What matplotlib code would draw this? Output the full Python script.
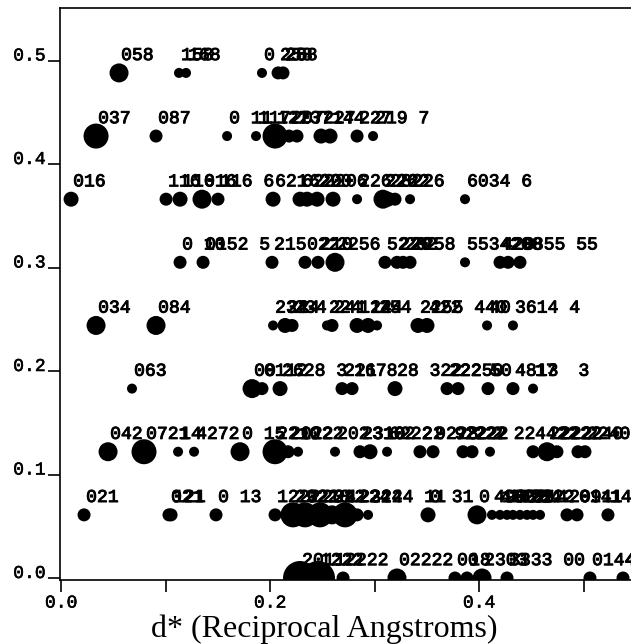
import matplotlib
matplotlib.use("Agg")
import matplotlib.pyplot as plt
import matplotlib.patheffects as pe

# ---- data: d* (reciprocal Angstroms), relative intensity class, hkl label, per layer ----
layer_y = [0.0, 0.061, 0.122, 0.183, 0.244, 0.305, 0.366, 0.427, 0.488]

dstar_0 = [0.2287, 0.2459, 0.2699, 0.3215, 0.3770, 0.3885, 0.4029, 0.4268, 0.5062, 0.5378]
inten_0 = [6, 6, 2, 4, 2, 2, 4, 2, 2, 2]
hkl_0 = ["2011", "1222", "2222", "02222", "00", "18", "2303", "3333 00", "0144", "4422"]

dstar_1 = [0.0220, 0.1033, 0.1053, 0.1483, 0.2048, 0.2220, 0.2335, 0.2478, 0.2593, 0.2718,
           0.2833, 0.2938, 0.3512, 0.3981, 0.4124, 0.4201, 0.4268, 0.4325, 0.4392, 0.4459,
           0.4517, 0.4584, 0.4842, 0.4938, 0.5234]
inten_1 = [2, 2, 2, 2, 2, 5, 5, 5, 4, 5,
           2, 1, 3, 4, 1, 1, 1, 1, 1, 1,
           1, 1, 2, 2, 2]
hkl_1 = ["021", "021", "121", "0 13", "1222", "2922", "0218", "2322", "24", "1224",
         "2224", "3224 11", "0 31", "0 4", "499", "102", "272", "632", "189", "234",
         "214", "222", "2091", "0141", "14"]

dstar_2 = [0.0450, 0.0794, 0.1120, 0.1273, 0.1713, 0.2048, 0.2172, 0.2268, 0.2622, 0.2861,
           0.2957, 0.3120, 0.3435, 0.3560, 0.3847, 0.3933, 0.4105, 0.4517, 0.4651, 0.4746,
           0.4947, 0.5014]
inten_2 = [4, 5, 1, 1, 4, 5, 2, 1, 1, 2,
           3, 1, 2, 2, 2, 2, 1, 2, 4, 2,
           2, 2]
hkl_2 = ["042", "0721", "14", "4272", "0 15", "2210", "2022", "1222", "202", "2310",
         "3102", "6222", "22 922", "9228", "2222", "222", "2 22", "4422", "2222", "2222",
         "2240", "22400."]

dstar_3 = [0.0679, 0.1828, 0.1923, 0.2096, 0.2689, 0.2785, 0.3196, 0.3694, 0.3799, 0.4086,
           0.4325, 0.4517]
inten_3 = [1, 4, 2, 3, 2, 2, 3, 2, 2, 2, 2, 1]
hkl_3 = ["063", "00", "0112", "2628 3", "221", "1678", "28 322", "222", "2250", "50",
         "4813", "17  3"]

dstar_4 = [0.0335, 0.0909, 0.2029, 0.2144, 0.2211, 0.2545, 0.2593, 0.2833, 0.2938, 0.3024,
           0.3416, 0.3502, 0.4077, 0.4325]
inten_4 = [4, 4, 1, 3, 2, 1, 2, 3, 3, 1, 3, 3, 1, 1]
hkl_4 = ["034", "084", "234", "224", "234", "224", "241", "114", "224", "254",
         "2255 440", "422", "40", "3614 4"]

dstar_5 = [0.1139, 0.1359, 0.2019, 0.2335, 0.2459, 0.2622, 0.3100, 0.3215, 0.3273, 0.3340,
           0.3866, 0.4201, 0.4278, 0.4392]
inten_5 = [2, 2, 2, 2, 2, 4, 2, 2, 2, 2, 1, 2, 2, 2]
hkl_5 = ["0 10", "0152 5", "215", "022", "210", "2256", "52", "220", "202", "2258",
         "5534", "420", "208", "0855 55"]

dstar_6 = [0.0096, 0.1005, 0.1139, 0.1349, 0.1502, 0.2029, 0.2287, 0.2354, 0.2450, 0.2603,
           0.2833, 0.3081, 0.3129, 0.3196, 0.3340, 0.3866]
inten_6 = [3, 2, 3, 4, 2, 3, 3, 3, 3, 3, 1, 4, 3, 2, 1, 1]
hkl_6 = ["016", "116", "116", "016", "116 6", "621", "622", "620", "220", "206",
         "226", "226", "282", "222", "226", "6034 6"]

dstar_7 = [0.0335, 0.0909, 0.1589, 0.1866, 0.2048, 0.2182, 0.2258, 0.2488, 0.2574, 0.2833,
           0.2986]
inten_7 = [5, 2, 1, 1, 5, 2, 2, 3, 3, 2, 1]
hkl_7 = ["037", "087", "0 11", "117", "127", "207", "237", "227", "144", "227", "219 7"]

dstar_8 = [0.0555, 0.1129, 0.1196, 0.1923, 0.2077, 0.2124]
inten_8 = [4, 1, 1, 1, 2, 2]
hkl_8 = ["058", "158", "168", "0 25", "258", "288"]

layers = [
    (dstar_0, inten_0, hkl_0), (dstar_1, inten_1, hkl_1), (dstar_2, inten_2, hkl_2),
    (dstar_3, inten_3, hkl_3), (dstar_4, inten_4, hkl_4), (dstar_5, inten_5, hkl_5),
    (dstar_6, inten_6, hkl_6), (dstar_7, inten_7, hkl_7), (dstar_8, inten_8, hkl_8),
]

x_ticks = [0.0, 0.1, 0.2, 0.3, 0.4, 0.5]
x_ticklabels = ["0.0", "", "0.2", "", "0.4", ""]
y_ticks = [0.0, 0.1, 0.2, 0.3, 0.4, 0.5]
y_ticklabels = ["0.0", "0.1", "0.2", "0.3", "0.4", "0.5"]
x_label = "d* (Reciprocal Angstroms)"

# ---- style ----
diam_px = {1: 10, 2: 13, 3: 15, 4: 19, 5: 25, 6: 34}
mono = "Liberation Mono"
thicken = [pe.withStroke(linewidth=0.7, foreground="black")]

fig = plt.figure(figsize=(6.31, 6.44), dpi=100)
W, H = 631, 644
ax = fig.add_axes([60 / W, 64 / H, 580 / W, 572 / H])

for yv, (xs, ints, labs) in zip(layer_y, layers):
    sizes = [(diam_px[i] * 0.72) ** 2 for i in ints]
    ax.scatter(xs, [yv] * len(xs), s=sizes, c="black", edgecolors="none", zorder=3)
    for xv, lab in zip(xs, labs):
        ax.annotate(lab, (xv, yv), xytext=(1.5, 12.5), textcoords="offset points",
                    fontsize=13, family=mono, ha="left", va="center",
                    color="black", annotation_clip=False, path_effects=thicken)

ax.set_xlim(-0.001, (640 - 61) / 1045)
ax.set_ylim(-2 / 1035, 570 / 1035)

ax.set_xticks(x_ticks)
ax.set_xticklabels(x_ticklabels, family=mono, fontsize=13)
ax.set_yticks(y_ticks)
ax.set_yticklabels(y_ticklabels, family=mono, fontsize=13)
for t in ax.get_yticklabels():
    t.set_verticalalignment("baseline")
for t in ax.get_xticklabels() + ax.get_yticklabels():
    t.set_path_effects([pe.withStroke(linewidth=0.4, foreground="black")])
ax.tick_params(direction="out", length=8.5, width=1.2, color="black")
ax.tick_params(axis="x", pad=2)
ax.tick_params(axis="y", pad=2)
for sp in ax.spines.values():
    sp.set_linewidth(1.2)

fig.text(324 / W, (H - 637) / H, x_label, family="Liberation Serif", fontsize=23,
         ha="center", va="baseline")

fig.savefig("out.png", dpi=100)
